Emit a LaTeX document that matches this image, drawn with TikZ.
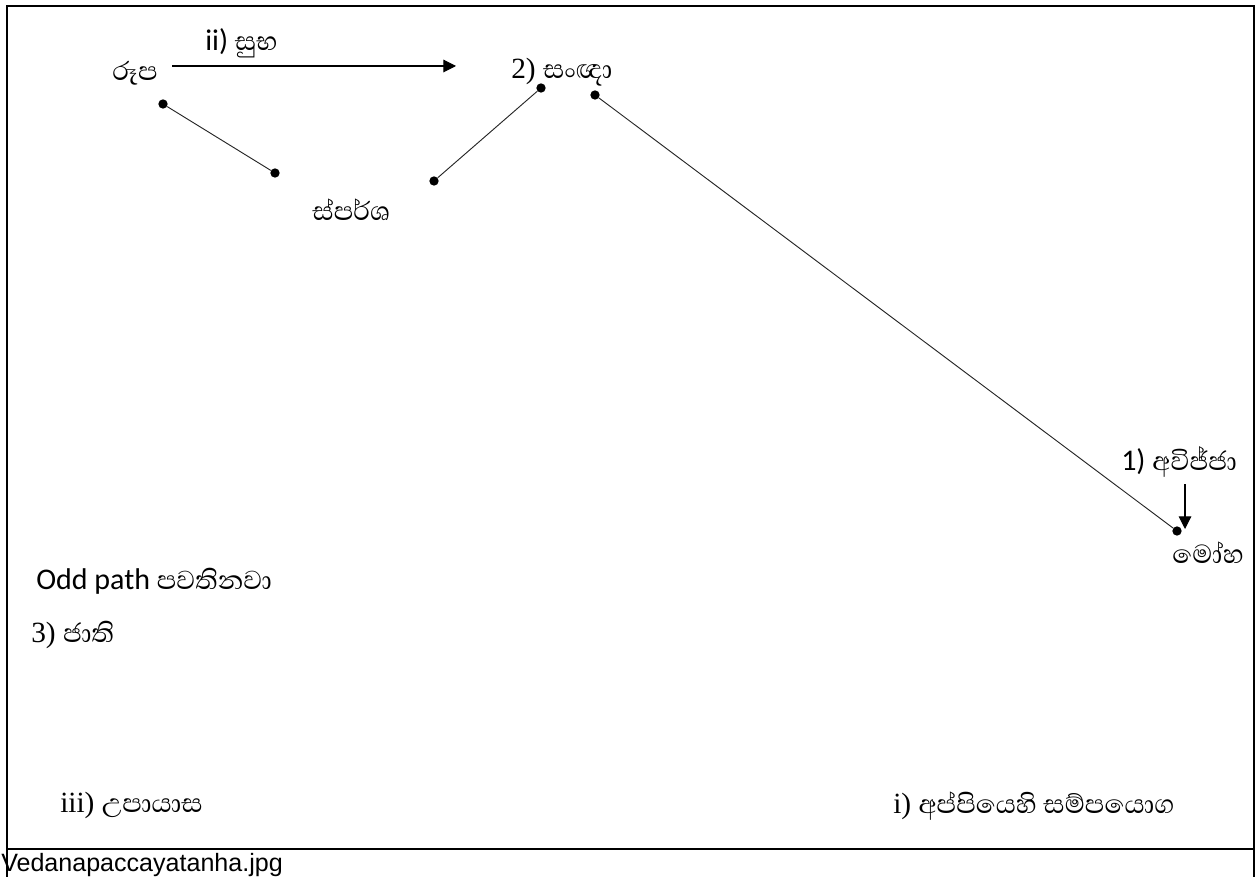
\documentclass[tikz,border=0pt]{standalone}
\usepackage{fontspec}
\setmainfont{Liberation Serif}
\newfontfamily\sinhfont[Script=Sinhala]{Abhaya Libre}
\newfontfamily\calib{Carlito}
\newfontfamily\arialf{Liberation Sans}
\usetikzlibrary{arrows.meta}
% Sinhala words, set a little larger than the Latin text around them
\newcommand\sinhtxt[1]{{\sinhfont\fontsize{25}{28}\selectfont #1}}
\begin{document}
\begin{tikzpicture}[x=0.75pt,y=-0.75pt,
  dot/.style={circle,fill=black,inner sep=0pt,minimum size=7pt},
  link/.style={line width=0.7pt,draw=black!85},
  pointer/.style={line width=0.8pt,-{Triangle[length=9.5pt,width=9.5pt]}},
  lbl/.style={inner sep=0pt,anchor=base west,font=\fontsize{22}{26}\selectfont},
  sanslbl/.style={lbl,font=\calib\fontsize{22.5}{26}\selectfont},
  frame/.style={line width=1.6pt}]
\useasboundingbox (0,0) rectangle (1257,877);
% outer frame with caption row
\draw[frame] (7,900) -- (7,6) -- (1254,6) -- (1254,900);
\draw[frame] (7,849) -- (1254,849);
\node[lbl,font=\arialf\fontsize{18.8}{22}\selectfont] (cap) at (1,871) {Vedanapaccayatanha.jpg};

% labels
\node[lbl] (rupa) at (112,81) {\sinhtxt{රූප}};
\node[sanslbl] (subha) at (205,51) {ii) \sinhtxt{සුභ}};
\node[lbl] (sanna) at (511,79) {2) \sinhtxt{සංඥා}};
\node[lbl] (phassa) at (312,221) {\sinhtxt{ස්පර්ශ}};
\node[sanslbl] (avijja) at (1121,470) {1) \sinhtxt{අවිජ්ජා}};
\node[lbl] (moha) at (1172,563) {\sinhtxt{මෝහ}};
\node[sanslbl] (odd) at (36,589) {Odd path \sinhtxt{පවතිනවා}};
\node[lbl] (jati) at (31,642) {3) \sinhtxt{ජාති}};
\node[lbl] (upayasa) at (60,812) {iii) \sinhtxt{උපායාස}};
\node[lbl] (appiya) at (893,813) {i) \sinhtxt{අප්පියෙහි සම්පයොග}};

% dots
\node[dot] (d1) at (163,104) {};
\node[dot] (d2) at (275,173) {};
\node[dot] (d3) at (434,181) {};
\node[dot] (d4) at (541,88) {};
\node[dot] (d5) at (595,95) {};
\node[dot] (d6) at (1177,531) {};

% connectors
\draw[link] (d1) -- (d2);
\draw[link] (d3) -- (d4);
\draw[link] (d5) -- (d6);

\coordinate (a1) at (172,66);
\coordinate (a2) at (456,66);
\draw[pointer] (a1) -- (a2);
\coordinate (b1) at (1185,484);
\coordinate (b2) at (1185,529);
\draw[pointer] (b1) -- (b2);
\end{tikzpicture}
\end{document}
